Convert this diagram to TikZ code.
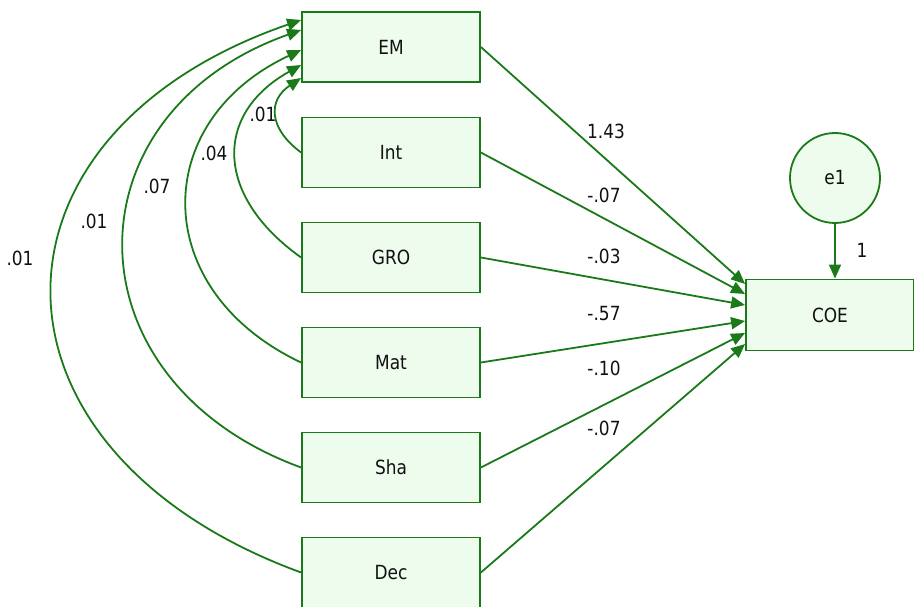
\documentclass[tikz,border=0pt]{standalone}
\usepackage{fontspec}
\setmainfont{DejaVu Sans}[FakeStretch=0.87]
\usetikzlibrary{arrows.meta}
\definecolor{ln}{HTML}{1A7A1A}
\definecolor{fl}{HTML}{EEFCEE}
\definecolor{tx}{HTML}{111111}
\begin{document}
\begin{tikzpicture}[x=1pt,y=-1pt,
  font=\fontsize{19.5}{22}\selectfont,
  box/.style={draw=ln, fill=fl, line width=1.8pt, minimum width=178pt, minimum height=70pt, inner sep=0pt, text=tx},
  ebox/.style={draw=ln, fill=fl, line width=1.8pt, circle, minimum size=90pt, inner sep=0pt, text=tx},
  arr/.style={draw=ln, line width=1.8pt, -{Triangle[length=14pt,width=12pt]}},
  lab/.style={inner sep=0pt, text=tx}]
\useasboundingbox (0,0) rectangle (914,607);
% variables
\node[box] (EM)  at (391,47)    {EM};
\node[box] (Int) at (391,152.5) {Int};
\node[box] (GRO) at (391,257.5) {GRO};
\node[box] (Mat) at (391,362.5) {Mat};
\node[box] (Sha) at (391,467.5) {Sha};
\node[box] (Dec) at (391,572.5) {Dec};
\node[box, minimum width=168pt, minimum height=71pt] (COE) at (830,315) {COE};
\node[ebox] (e1) at (835,178) {e1};
% regression paths
\draw[arr] (EM.east)  -- ([yshift=31pt]COE.west);
\draw[arr] (Int.east) -- ([yshift=21pt]COE.west);
\draw[arr] (GRO.east) -- ([yshift=10pt]COE.west);
\draw[arr] (Mat.east) -- ([yshift=-6pt]COE.west);
\draw[arr] (Sha.east) -- ([yshift=-18pt]COE.west);
\draw[arr] (Dec.east) -- ([yshift=-29pt]COE.west);
\draw[arr] (e1.south) -- (e1.south |- COE.north);
% covariances
\draw[arr] (Int.west) .. controls (268,128) and (268,100) .. ([yshift=-31pt]EM.west);
\draw[arr] (GRO.west) .. controls (214,195.4) and (214,113.6) .. ([yshift=-18pt]EM.west);
\draw[arr] (Mat.west) .. controls (148.7,290.5) and (148.7,121.5) .. ([yshift=-3pt]EM.west);
\draw[arr] (Sha.west) .. controls (64.7,381) and (64.7,113.7) .. ([yshift=17pt]EM.west);
\draw[arr] (Dec.west) .. controls (-31,451) and (-31,134.6) .. ([yshift=27pt]EM.west);
% labels
\node[lab] (lEM)  at (606,131) {1.43};
\node[lab] (lInt) at (604,195) {-.07};
\node[lab] (lGRO) at (604,256) {-.03};
\node[lab] (lMat) at (604,314) {-.57};
\node[lab] (lSha) at (604,368) {-.10};
\node[lab] (lDec) at (604,428) {-.07};
\node[lab] (le1)  at (862,250) {1};
\node[lab] (cInt) at (263,114) {.01};
\node[lab] (cGRO) at (214,153) {.04};
\node[lab] (cMat) at (157,186) {.07};
\node[lab] (cSha) at (94,221)  {.01};
\node[lab] (cDec) at (20,258)  {.01};
\end{tikzpicture}
\end{document}
